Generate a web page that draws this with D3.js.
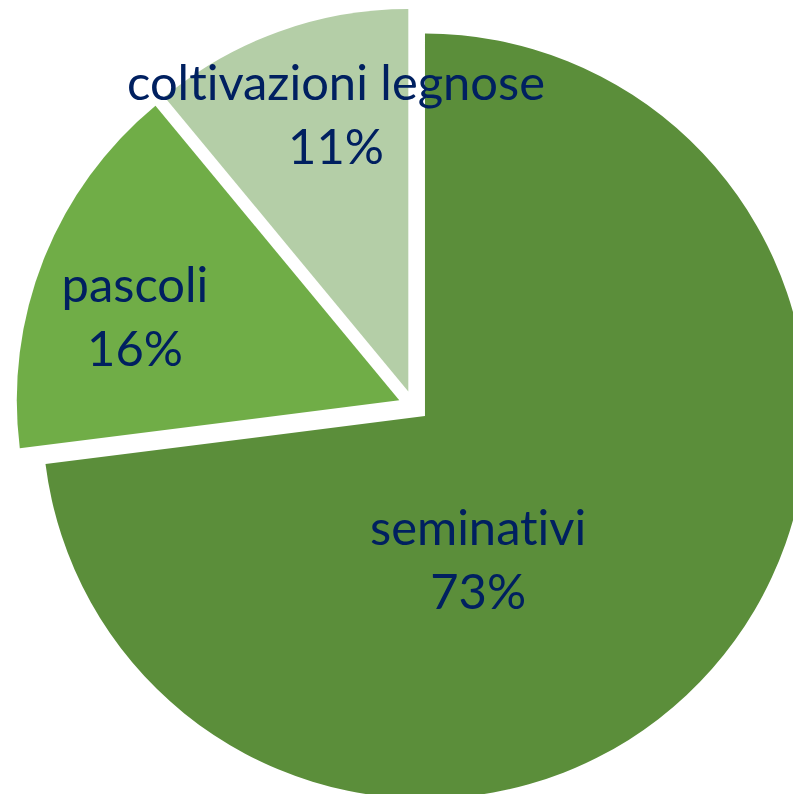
<!DOCTYPE html>
<html>
<head>
<meta charset="utf-8">
<script src="https://cdn.jsdelivr.net/npm/d3@7"></script>
<style>
  html, body { margin: 0; padding: 0; background: #ffffff; }
  svg { display: block; }
  text { font-variant-ligatures: none; font-feature-settings: "liga" 0, "clig" 0; }
</style>
</head>
<body>
<script>
// ---- data ----
const categories = ["seminativi", "pascoli", "coltivazioni legnose"];
const shares = [73, 16, 11];
const percentLabels = ["73%", "16%", "11%"];
const colors = ["#5B8E3A", "#70AD47", "#B4CEA7"];

// ---- layout ----
const W = 793, H = 794;
const cx = 413.5, cy = 406;
const radius = 382.5;
const explode = 15.3;
// label anchor relative to each slice's own centre, in units of radius
const labelOffsets = [[0.139, 0.337], [-0.691, -0.257], [-0.189, -0.762]];
const lineGap = 64;
const textColor = "#002060";

const svg = d3.select("body").append("svg")
  .attr("width", W).attr("height", H);

const pie = d3.pie().sort(null).value(d => d.v).startAngle(0).endAngle(2 * Math.PI);
const arcs = pie(categories.map((c, i) => ({ c, v: shares[i], i })));
const arc = d3.arc().innerRadius(0).outerRadius(radius);

const g = svg.append("g").attr("transform", `translate(${cx},${cy})`);

const slices = g.selectAll("g.slice").data(arcs).join("g")
  .attr("class", "slice")
  .attr("transform", d => {
    const a = (d.startAngle + d.endAngle) / 2;
    return `translate(${explode * Math.sin(a)},${-explode * Math.cos(a)})`;
  });

slices.append("path")
  .attr("d", arc)
  .attr("fill", d => colors[d.data.i]);

// determine font size (Lato scaled to match reference text width)
const probe = svg.append("text").attr("font-family", "Lato, 'Open Sans', sans-serif")
  .attr("font-size", 100).text("coltivazioni legnose");
const w100 = probe.node().getComputedTextLength();
probe.remove();
const fontSize = Math.min(56, 100 * 418 / w100);

const labels = slices.append("text")
  .attr("font-family", "Lato, 'Open Sans', sans-serif")
  .attr("font-size", fontSize)
  .attr("fill", textColor)
  .attr("text-anchor", "middle")
  .attr("transform", d => {
    const o = labelOffsets[d.data.i];
    return `translate(${o[0] * radius},${o[1] * radius})`;
  });
labels.append("tspan").attr("x", 0).attr("y", 0).text(d => d.data.c);
labels.append("tspan").attr("x", 0).attr("y", lineGap).text(d => percentLabels[d.data.i]);
</script>
</body>
</html>
